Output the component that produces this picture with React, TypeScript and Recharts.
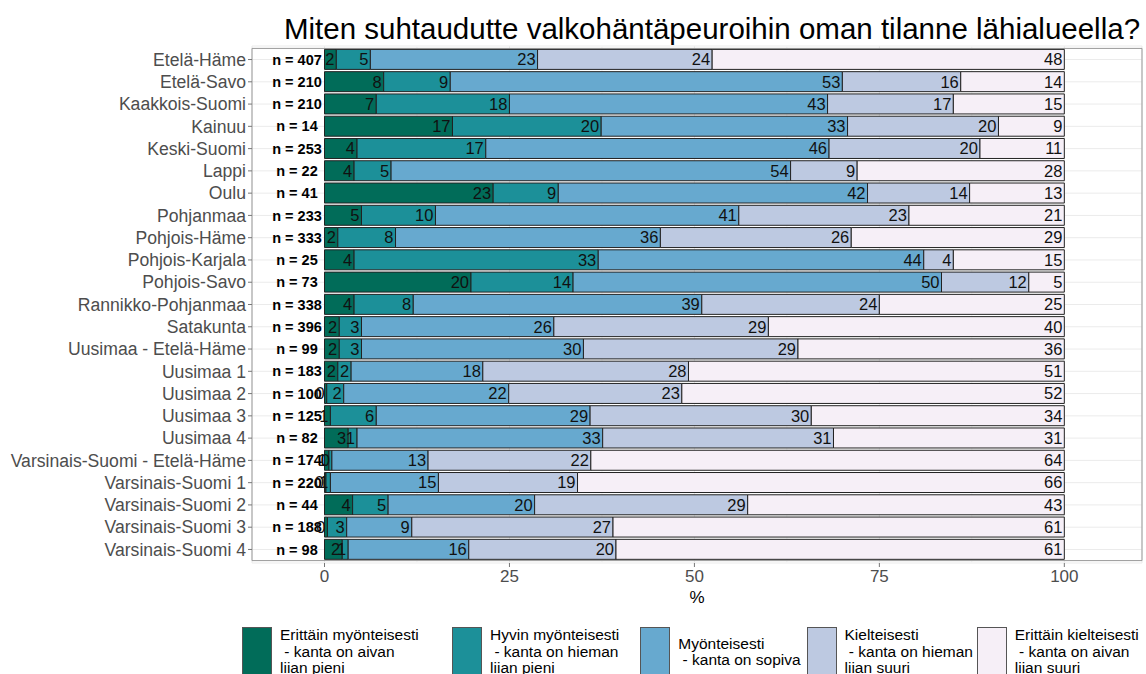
import React from "react";
import {
  BarChart,
  Bar,
  XAxis,
  YAxis,
  CartesianGrid,
  LabelList,
  Legend,
  ReferenceArea,
} from "recharts";

const regions = [
  "Etelä-Häme",
  "Etelä-Savo",
  "Kaakkois-Suomi",
  "Kainuu",
  "Keski-Suomi",
  "Lappi",
  "Oulu",
  "Pohjanmaa",
  "Pohjois-Häme",
  "Pohjois-Karjala",
  "Pohjois-Savo",
  "Rannikko-Pohjanmaa",
  "Satakunta",
  "Uusimaa - Etelä-Häme",
  "Uusimaa 1",
  "Uusimaa 2",
  "Uusimaa 3",
  "Uusimaa 4",
  "Varsinais-Suomi - Etelä-Häme",
  "Varsinais-Suomi 1",
  "Varsinais-Suomi 2",
  "Varsinais-Suomi 3",
  "Varsinais-Suomi 4",
];

const nCounts = [407, 210, 210, 14, 253, 22, 41, 233, 333, 25, 73, 338, 396, 99, 183, 100, 125, 82, 174, 220, 44, 188, 98];

const seriesNames = [
  "Erittäin myönteisesti\n - kanta on aivan\nliian pieni",
  "Hyvin myönteisesti\n - kanta on hieman\nliian pieni",
  "Myönteisesti\n - kanta on sopiva",
  "Kielteisesti\n - kanta on hieman\nliian suuri",
  "Erittäin kielteisesti\n - kanta on aivan\nliian suuri",
];

// % shares per answer, one value per region (same order as regions)
const erittainMyonteisesti = [1.6, 8, 7, 17.3, 4.4, 4, 22.8, 5, 1.8, 4, 19.8, 4, 2, 2, 1.8, 0.3, 0.8, 3.2, 0.6, 0.2, 3.8, 0.4, 2.4];
const hyvinMyonteisesti = [4.6, 9, 18, 20.1, 17.4, 5, 8.8, 10, 7.8, 33, 13.8, 8, 3, 3, 1.8, 2.3, 6.2, 1.2, 0.4, 0.6, 4.8, 2.6, 0.8];
const myonteisesti = [22.6, 53, 43, 33.3, 46.4, 54, 41.8, 41, 35.8, 44, 49.8, 39, 26, 30, 17.8, 22.3, 28.9, 33.2, 13, 14.6, 19.8, 8.8, 16.3];
const kielteisesti = [23.6, 16, 17, 20.4, 20.4, 9, 13.8, 23, 25.8, 4, 11.8, 24, 29, 29, 27.8, 23.4, 29.9, 31.2, 22, 18.8, 28.8, 27.2, 19.9];
const erittainKielteisesti = [47.6, 14, 15, 8.9, 11.4, 28, 12.8, 21, 28.8, 15, 4.8, 25, 40, 36, 50.8, 51.7, 34.2, 31.2, 64, 65.8, 42.8, 61, 60.6];

const xTicks = [0, 25, 50, 75, 100];
const minorTicks = [12.5, 37.5, 62.5, 87.5];
const xDomain: [number, number] = [-9.8, 110.5];

const COLORS = ["#016c59", "#1c9099", "#67a9cf", "#bdc9e1", "#f6eff7"];
const LEGEND_WIDTHS = [211, 189, 167, 171, 170];
const FONT = '"Liberation Sans", Arial, sans-serif';

const series = [erittainMyonteisesti, hyvinMyonteisesti, myonteisesti, kielteisesti, erittainKielteisesti];

const data = regions.map((region, i) => {
  const row: Record<string, string | number> = { region, n: nCounts[i] };
  series.forEach((s, k) => {
    row["s" + k] = s[i];
  });
  return row;
});

const box = (props: any) => {
  const vb = props.viewBox || {};
  return {
    x: props.x ?? vb.x,
    y: props.y ?? vb.y,
    width: props.width ?? vb.width,
    height: props.height ?? vb.height,
  };
};

const SegmentLabel = (props: any) => {
  const { x, y, width, height } = box(props);
  if (props.value == null) return null;
  return (
    <text
      x={x + width - 2}
      y={y + height / 2}
      dy="0.36em"
      textAnchor="end"
      fontSize={16.5}
      fontFamily={FONT}
      fill="#111"
    >
      {Math.round(Number(props.value))}
    </text>
  );
};

const NLabel = (props: any) => {
  const { x, y, height } = box(props);
  return (
    <text
      x={x - 27.5}
      y={y + height / 2}
      dy="0.36em"
      textAnchor="middle"
      fontSize={14.5}
      fontWeight="bold"
      fontFamily={FONT}
      fill="#000"
    >
      {`n = ${props.value}`}
    </text>
  );
};

// minor vertical grid lines, mapped through the x axis scale when available
const minorGrid = ({ xAxis, offset }: any) => {
  const sc = xAxis && xAxis.scale;
  if (typeof sc === "function") return minorTicks.map((v) => sc(v));
  if (sc && typeof sc.map === "function") return minorTicks.map((v) => sc.map(v));
  const [d0, d1] = xDomain;
  return minorTicks.map((v) => offset.left + ((v - d0) / (d1 - d0)) * offset.width);
};

const LegendContent = () => (
  <div style={{ display: "flex", height: 50, paddingLeft: 242, fontFamily: FONT }}>
    {seriesNames.map((name, i) => (
      <div
        key={name}
        style={{ width: LEGEND_WIDTHS[i], display: "flex", alignItems: "center", height: 50 }}
      >
        <div
          style={{
            width: 30,
            height: 50,
            flexShrink: 0,
            background: COLORS[i],
            border: "1px solid #555",
            boxSizing: "border-box",
          }}
        />
        <div
          style={{
            marginLeft: 8,
            whiteSpace: "pre",
            fontSize: 15.5,
            lineHeight: "16.5px",
            color: "#000",
          }}
        >
          {name}
        </div>
      </div>
    ))}
  </div>
);

export default function App() {
  return (
    <div style={{ position: "relative", width: 1146, height: 674, fontFamily: FONT }}>
      <style>{"body{margin:0}"}</style>
      <BarChart
        width={1146}
        height={674}
        data={data}
        layout="vertical"
        margin={{ top: 46, right: 4, left: 0, bottom: 16 }}
        barSize={20}
      >
        <CartesianGrid stroke="#ebebeb" />
        <CartesianGrid stroke="#f4f4f4" horizontal={false} verticalCoordinatesGenerator={minorGrid} />
        <XAxis
          type="number"
          domain={xDomain}
          allowDataOverflow
          ticks={xTicks}
          height={45}
          axisLine={false}
          tickSize={4}
          tickMargin={3}
          tickLine={{ stroke: "#777" }}
          tick={{ fontSize: 17, fill: "#4d4d4d", fontFamily: FONT }}
          label={{ value: "%", position: "insideBottom", offset: 5, fontSize: 17, fill: "#000", fontFamily: FONT }}
        />
        <YAxis
          type="category"
          dataKey="region"
          width={252}
          padding={{ top: 2.4, bottom: 2.4 }}
          axisLine={false}
          tickSize={4}
          tickMargin={2}
          tickLine={{ stroke: "#777" }}
          tick={{ fontSize: 17.6, fill: "#4d4d4d", fontFamily: FONT }}
          interval={0}
        />
        <ReferenceArea x1={xDomain[0]} x2={xDomain[1]} fill="none" stroke="#999" ifOverflow="visible" />
        {seriesNames.map((name, k) => (
          <Bar
            key={name}
            dataKey={"s" + k}
            name={name}
            stackId="a"
            fill={COLORS[k]}
            stroke="#222"
            strokeWidth={1}
            isAnimationActive={false}
          >
            {k === 0 && <LabelList dataKey="n" content={NLabel} />}
            <LabelList dataKey={"s" + k} content={SegmentLabel} />
          </Bar>
        ))}
        <Legend
          verticalAlign="bottom"
          content={LegendContent}
          wrapperStyle={{ top: 627, bottom: "auto", left: 0, width: 1146 }}
        />
      </BarChart>
      <div
        style={{
          position: "absolute",
          top: 13.5,
          left: 267,
          width: 890,
          textAlign: "center",
          fontSize: 29.5,
          lineHeight: "29px",
          color: "#000",
          whiteSpace: "nowrap",
        }}
      >
        Miten suhtaudutte valkohäntäpeuroihin oman tilanne lähialueella?
      </div>
    </div>
  );
}
